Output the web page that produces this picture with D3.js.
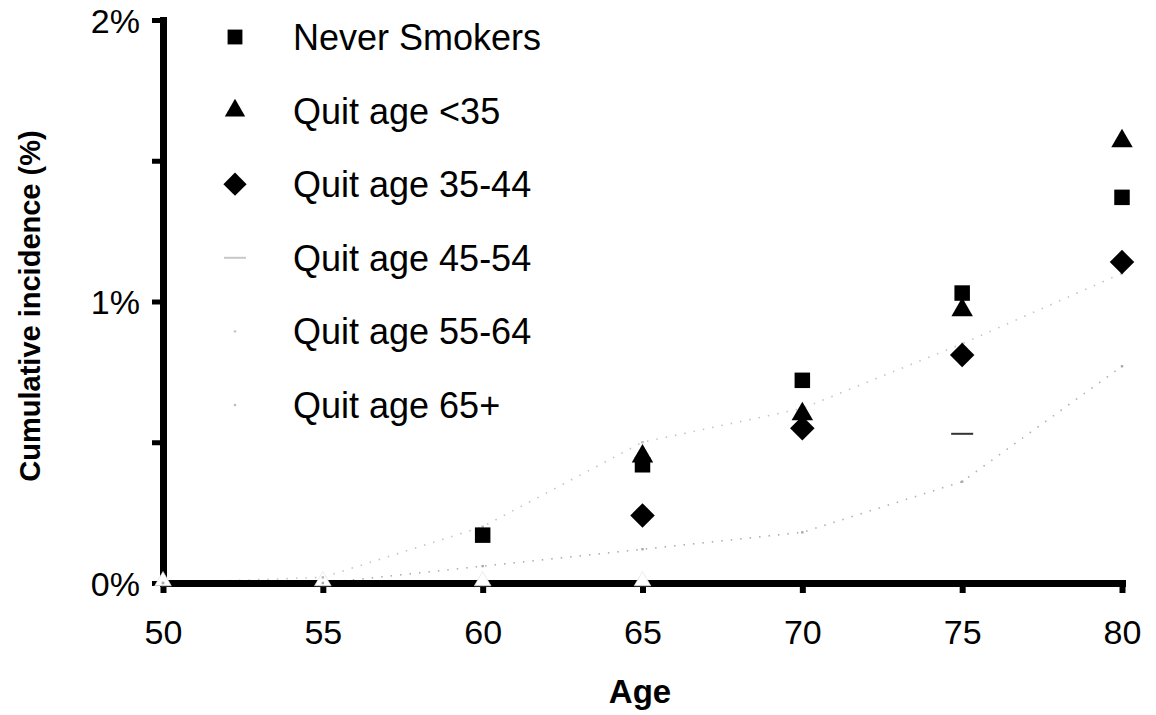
<!DOCTYPE html>
<html>
<head>
<meta charset="utf-8">
<script src="https://cdn.jsdelivr.net/npm/d3@7"></script>
<style>
  body { margin: 0; background: #fff; }
  svg { display: block; }
  text { font-family: "Liberation Sans", Arial, sans-serif; fill: #000; }
</style>
</head>
<body>
<svg id="chart" width="1156" height="715"></svg>
<script>
// ---- data ----
const ages = [50, 55, 60, 65, 70, 75, 80];
const neverSmokers = [null, null, 0.17, 0.42, 0.72, 1.03, 1.37];
const quitUnder35  = [null, null, null, 0.45, 0.60, 0.97, 1.57];
const quit35to44   = [null, null, null, 0.24, 0.55, 0.81, 1.14];
const quit45to54   = [null, null, null, null, null, 0.53, null];
const quit55to64   = [0, 0.02, 0.20, 0.50, 0.62, 0.85, 1.10];
const quit65plus   = [0, 0, 0.06, 0.12, 0.18, 0.36, 0.77];
const zeroMarkAges = [50, 55, 60, 65];
const yTicks = [0, 0.5, 1, 1.5, 2];
const yTickLabels = {0: "0%", 1: "1%", 2: "2%"};
const xTicks = [50, 55, 60, 65, 70, 75, 80];
const legendLabels = ["Never Smokers", "Quit age <35", "Quit age 35-44",
                      "Quit age 45-54", "Quit age 55-64", "Quit age 65+"];

const svg = d3.select("#chart");
const x = d3.scaleLinear().domain([50, 80]).range([163, 1122]);
const y = d3.scaleLinear().domain([0, 2]).range([583, 20]);

// faint dotted lines (the light series)
const lineGen = d3.line().defined(d => d[1] !== null).x(d => x(d[0])).y(d => y(d[1]));
[[quit55to64, "#c4c4c4"], [quit65plus, "#b0b0b0"]].forEach(([vals, col]) => {
  svg.append("path")
    .datum(ages.map((a, i) => [a, vals[i]]))
    .attr("d", lineGen)
    .attr("fill", "none")
    .attr("stroke", col)
    .attr("stroke-width", 1.6)
    .attr("stroke-dasharray", "1.5,8");
});

// axes
const yAxis = d3.axisLeft(y).tickValues(yTicks).tickSize(11).tickSizeOuter(0)
  .tickPadding(12).tickFormat(d => yTickLabels[d] || "");
const gy = svg.append("g").attr("transform", `translate(${x(50)},0)`).call(yAxis);
gy.select(".domain").attr("stroke-width", 7).attr("stroke-linecap", "square").attr("stroke", "#000");
gy.selectAll(".tick line").attr("stroke-width", 5).attr("stroke", "#000");
gy.selectAll(".tick text").style("font-size", "34px").attr("dy", "0.36em").attr("fill", "#000");

const xAxis = d3.axisBottom(x).tickValues(xTicks).tickSize(10).tickSizeOuter(0).tickPadding(27);
const gx = svg.append("g").attr("transform", `translate(0,${y(0)})`).call(xAxis);
gx.select(".domain").attr("stroke-width", 7).attr("stroke-linecap", "square").attr("stroke", "#000");
gx.selectAll(".tick line").attr("stroke-width", 6).attr("stroke", "#000");
gx.selectAll(".tick text").style("font-size", "34px").attr("fill", "#000");

// white notches on the axis at the early ages
svg.append("g").selectAll("path").data(zeroMarkAges).join("path")
  .attr("transform", d => `translate(${x(d)},${y(0) - 2})`)
  .attr("d", d3.symbol(d3.symbolTriangle, 120)())
  .attr("fill", "#fff").attr("stroke", "#ddd").attr("stroke-width", 0.6);

// axis titles
svg.append("text").attr("x", 640).attr("y", 703).attr("text-anchor", "middle")
  .style("font-size", "33px").style("font-weight", "bold").text("Age");
svg.append("text").attr("transform", "translate(40,306) rotate(-90)")
  .attr("text-anchor", "middle").style("font-size", "29px").style("font-weight", "bold")
  .text("Cumulative incidence (%)");

// markers
function drawSeries(vals, sym, size, fill) {
  svg.append("g").selectAll("path")
    .data(ages.map((a, i) => [a, vals[i]]).filter(d => d[1] !== null))
    .join("path")
    .attr("transform", d => `translate(${x(d[0])},${y(d[1])})`)
    .attr("d", d3.symbol(sym, size)())
    .attr("fill", fill);
}
const diamondSym = { draw(ctx, size) { const r = Math.sqrt(size / 2); ctx.moveTo(0, -r); ctx.lineTo(r, 0); ctx.lineTo(0, r); ctx.lineTo(-r, 0); ctx.closePath(); } };
const dashSym = { draw(ctx, size) { ctx.rect(-11, -1, 22, 2); } };
const dotSym = { draw(ctx, size) { ctx.rect(-1.2, -1.2, 2.4, 2.4); } };

drawSeries(quit55to64, dotSym, 1, "#b8b8b8");
drawSeries(quit65plus, dotSym, 1, "#a8a8a8");
drawSeries(quit45to54, dashSym, 1, "#333");
drawSeries(quit35to44, diamondSym, 300, "#000");
drawSeries(quitUnder35, d3.symbolTriangle, 200, "#000");
drawSeries(neverSmokers, d3.symbolSquare, 240, "#000");

// legend
const legendY = d3.scalePoint().domain(legendLabels).range([37, 405]);
const legendSyms = [
  [d3.symbolSquare, 220, "#000"], [d3.symbolTriangle, 180, "#000"], [diamondSym, 270, "#000"],
  [dashSym, 1, "#c8c8c8"], [dotSym, 1, "#c8c8c8"], [dotSym, 1, "#c0c0c0"]
];
const lg = svg.append("g");
legendLabels.forEach((lab, i) => {
  const [sym, sz, col] = legendSyms[i];
  lg.append("path").attr("transform", `translate(235,${legendY(lab)})`)
    .attr("d", d3.symbol(sym, sz)()).attr("fill", col);
  lg.append("text").attr("x", 293).attr("y", legendY(lab)).attr("dy", "0.36em")
    .style("font-size", "36px").text(lab);
});
</script>
</body>
</html>
